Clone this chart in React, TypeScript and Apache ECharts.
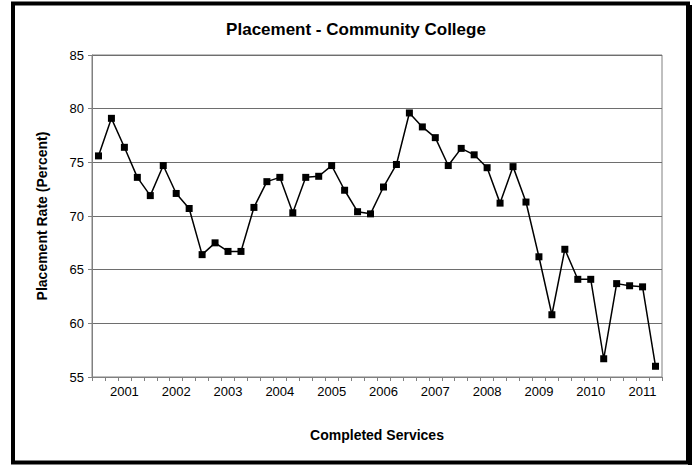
import React, { useEffect, useRef } from "react";
import * as echarts from "echarts";

const categories: string[] = [
  "2000 Q3", "2000 Q4",
  "2001 Q1", "2001 Q2", "2001 Q3", "2001 Q4",
  "2002 Q1", "2002 Q2", "2002 Q3", "2002 Q4",
  "2003 Q1", "2003 Q2", "2003 Q3", "2003 Q4",
  "2004 Q1", "2004 Q2", "2004 Q3", "2004 Q4",
  "2005 Q1", "2005 Q2", "2005 Q3", "2005 Q4",
  "2006 Q1", "2006 Q2", "2006 Q3", "2006 Q4",
  "2007 Q1", "2007 Q2", "2007 Q3", "2007 Q4",
  "2008 Q1", "2008 Q2", "2008 Q3", "2008 Q4",
  "2009 Q1", "2009 Q2", "2009 Q3", "2009 Q4",
  "2010 Q1", "2010 Q2", "2010 Q3", "2010 Q4",
  "2011 Q1", "2011 Q2",
];

const placementRate: number[] = [
  75.6, 79.1,
  76.4, 73.6, 71.9, 74.7,
  72.1, 70.7, 66.4, 67.5,
  66.7, 66.7, 70.8, 73.2,
  73.6, 70.3, 73.6, 73.7,
  74.7, 72.4, 70.4, 70.2,
  72.7, 74.8, 79.6, 78.3,
  77.3, 74.7, 76.3, 75.7,
  74.5, 71.2, 74.6, 71.3,
  66.2, 60.8, 66.9, 64.1,
  64.1, 56.7, 63.7, 63.5,
  63.4, 56.0,
];

const yTicks = { min: 55, max: 85, interval: 5 };

const chartTitle = "Placement - Community College";
const xTitle = "Completed Services";
const yTitle = "Placement Rate (Percent)";

const FONT = "'Liberation Sans', Arial, sans-serif";

export default function App() {
  const ref = useRef<HTMLDivElement>(null);

  useEffect(() => {
    if (!ref.current) return;
    const chart = echarts.init(ref.current, null, { renderer: "svg" });
    chart.setOption({
      animation: false,
      backgroundColor: "#ffffff",
      title: {
        text: chartTitle,
        left: 351,
        textAlign: "center",
        top: 16,
        textStyle: { fontFamily: FONT, fontSize: 17, fontWeight: "bold", color: "#000" },
      },
      grid: {
        left: 92,
        right: 35,
        top: 55,
        bottom: 88,
        show: true,
        borderColor: "#808080",
        borderWidth: 1,
        backgroundColor: "#ffffff",
      },
      xAxis: {
        type: "category",
        data: categories,
        boundaryGap: true,
        axisLine: { show: true, lineStyle: { color: "#808080", width: 1 } },
        axisTick: { show: true, interval: 0, length: 4, lineStyle: { color: "#808080" } },
        axisLabel: {
          interval: (i: number) => i % 4 === 2,
          formatter: (v: string) => v.slice(0, 4),
          fontFamily: FONT,
          fontSize: 13,
          color: "#000",
          margin: 8,
        },
        splitLine: { show: false },
      },
      yAxis: {
        type: "value",
        min: yTicks.min,
        max: yTicks.max,
        interval: yTicks.interval,
        axisLine: { show: true, lineStyle: { color: "#808080", width: 1 } },
        axisTick: { show: true, length: 4, lineStyle: { color: "#808080" } },
        axisLabel: { fontFamily: FONT, fontSize: 13, color: "#000", margin: 8 },
        splitLine: { show: true, lineStyle: { color: "#6e6e6e", width: 1 } },
      },
      series: [
        {
          type: "line",
          data: placementRate,
          symbol: "rect",
          symbolSize: 7,
          itemStyle: { color: "#000" },
          lineStyle: { color: "#000", width: 1.5 },
        },
      ],
      graphic: [
        {
          type: "rect",
          shape: { x: 13, y: 3.5, width: 675, height: 459 },
          style: { fill: "none", stroke: "#000", lineWidth: 4 },
          silent: true,
        },
        {
          type: "rect",
          shape: { x: 688, y: 5, width: 4, height: 460 },
          style: { fill: "#000" },
          silent: true,
        },
        {
          type: "text",
          x: 42,
          y: 216,
          rotation: Math.PI / 2,
          style: {
            text: yTitle,
            fontFamily: FONT,
            fontSize: 14,
            fontWeight: "bold",
            fill: "#000",
            align: "center",
            verticalAlign: "middle",
          },
        },
        {
          type: "text",
          x: 377,
          y: 435,
          style: {
            text: xTitle,
            fontFamily: FONT,
            fontSize: 14,
            fontWeight: "bold",
            fill: "#000",
            align: "center",
            verticalAlign: "middle",
          },
        },
      ],
    });
    return () => chart.dispose();
  }, []);

  return (
    <div
      ref={ref}
      style={{ position: "fixed", left: 0, top: 0, width: 697, height: 465 }}
    />
  );
}
